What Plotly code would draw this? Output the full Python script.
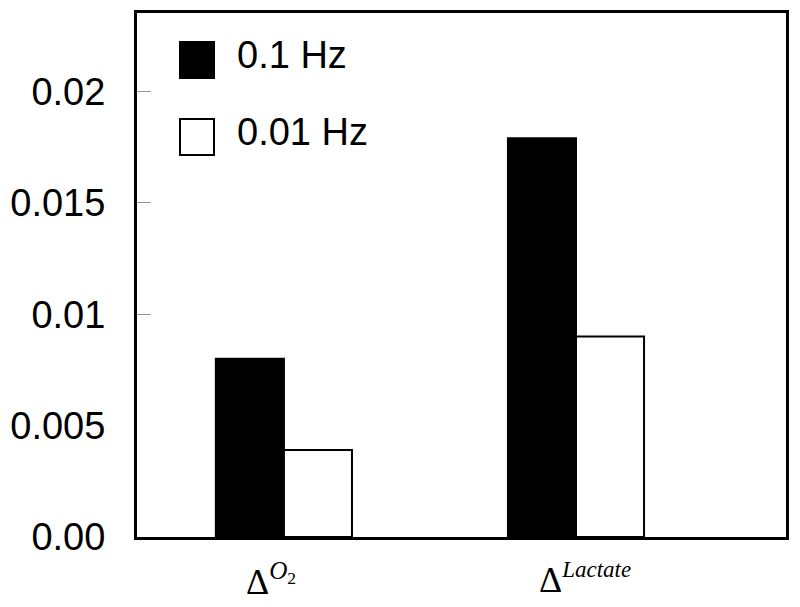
import plotly.graph_objects as go

# data
categories = ["O2", "Lactate"]
cat_labels = ["Δ<sup><i>O</i><sub>2</sub></sup>",
              "Δ<sup><span style='font-size:23px'><i>Lactate</i></span></sup>"]
label_shift = [-13, 9]
series_names = ["0.1 Hz", "0.01 Hz"]
vals_01hz = [0.0080, 0.0179]
vals_001hz = [0.0039, 0.0090]
ytick_vals = [0, 0.005, 0.01, 0.015, 0.02]
ytick_text = ["0.00", "0.005", "0.01", "0.015", "0.02"]

# the page body has an 8px margin, so the figure is a bit smaller and shifted
OFF = 8
W, H = 800 - OFF, 607 - OFF
L, R, T, B = 137 - OFF, 14, 13 - OFF, 70
pw, ph = W - L - R, H - T - B


def px(x):
    # page pixel -> paper fraction
    return (x - OFF - L) / pw


def py(y):
    return 1 - (y - OFF - T) / ph


fig = go.Figure()
fig.add_trace(go.Bar(x=categories, y=vals_01hz, name=series_names[0],
                     marker=dict(color="black", line=dict(color="black", width=2))))
fig.add_trace(go.Bar(x=categories, y=vals_001hz, name=series_names[1],
                     marker=dict(color="white", line=dict(color="black", width=2))))
# invisible trace for inner tick marks on the second y axis
fig.add_trace(go.Scatter(x=categories, y=vals_01hz, yaxis="y2", mode="markers",
                         marker=dict(opacity=0), showlegend=False, hoverinfo="skip"))

yrange = [0, 0.02352]
fig.update_layout(
    width=W, height=H,
    margin=dict(l=L, r=R, t=T, b=B, autoexpand=False),
    paper_bgcolor="white", plot_bgcolor="white",
    showlegend=False,
    barmode="group", bargap=0.534, bargroupgap=0,
    xaxis=dict(range=[-0.503, 1.719], showline=True, linecolor="black", linewidth=3,
               mirror=True, showgrid=False, ticks="", showticklabels=False,
               automargin=False),
    yaxis=dict(range=yrange, showline=True, linecolor="black", linewidth=3, mirror=True,
               showgrid=False, zeroline=False, ticks="", tickvals=ytick_vals,
               ticktext=ytick_text, ticklabelstandoff=21, automargin=False,
               tickfont=dict(family="Liberation Sans", size=38, color="black")),
    yaxis2=dict(range=yrange, overlaying="y", side="left", showgrid=False, zeroline=False,
                tickvals=ytick_vals[2:], ticks="inside", ticklen=14, tickwidth=1,
                tickcolor="#999999", showticklabels=False, automargin=False),
)

# category labels
for cat, lab, sh in zip(categories, cat_labels, label_shift):
    fig.add_annotation(text=lab, x=cat, xref="x", y=0, yref="paper", yanchor="top",
                       xanchor="center", xshift=sh, yshift=-18, showarrow=False,
                       font=dict(family="Liberation Serif", size=36, color="black"))

# legend drawn by hand to get the large swatches
legend_fill = ["black", "white"]
legend_y = [60, 137]
for name, fill, yc in zip(series_names, legend_fill, legend_y):
    fig.add_shape(type="rect", xref="paper", yref="paper",
                  x0=px(180), x1=px(214), y0=py(yc - 18), y1=py(yc + 18),
                  fillcolor=fill, line=dict(color="black", width=2))
    fig.add_annotation(text=name, xref="paper", yref="paper", x=px(235), y=py(yc - 5),
                       xanchor="left", yanchor="middle", showarrow=False,
                       font=dict(family="Liberation Sans", size=38, color="black"))

fig.write_html("out.html")
